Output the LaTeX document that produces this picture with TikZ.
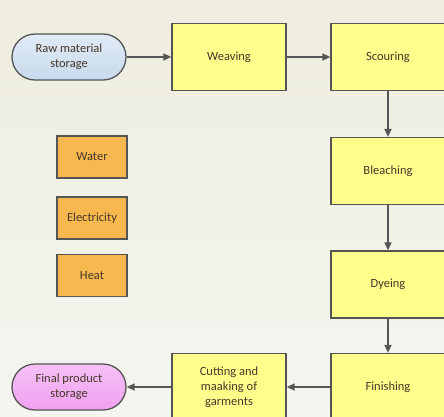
\documentclass[tikz,border=0pt]{standalone}
\usepackage{fontspec}
\setmainfont{Carlito}
\usetikzlibrary{arrows.meta, positioning}

\definecolor{bgtop}{RGB}{238,237,222}
\definecolor{bgbot}{RGB}{245,245,241}
\definecolor{stepyellow}{RGB}{255,255,140}
\definecolor{supplyorange}{RGB}{248,184,80}
\definecolor{rawblue}{RGB}{200,218,238}
\definecolor{finalpink}{RGB}{240,160,240}
\definecolor{edgegray}{RGB}{85,85,85}
\definecolor{textbrown}{RGB}{70,55,40}

\tikzset{
  stepbox/.style={draw=edgegray, line width=1.3pt, fill=stepyellow,
    minimum width=114pt, minimum height=67pt, align=center},
  supplybox/.style={draw=edgegray, line width=1.3pt, fill=supplyorange,
    minimum width=70pt, minimum height=42pt, align=center},
  storebox/.style={draw=edgegray, line width=1.3pt, rounded corners=23pt,
    minimum width=114pt, minimum height=46pt, align=center},
  flow/.style={-{Triangle[length=8pt, width=7pt]}, draw=edgegray, line width=1.5pt}
}

\begin{document}
\begin{tikzpicture}[x=1pt, y=-1pt, font=\fontsize{12.5}{15}\selectfont, text=textbrown]
  \shade[top color=bgtop, bottom color=bgbot] (0,0) rectangle (444,416);
  \useasboundingbox (0,0) rectangle (444,416);

  % storage ends
  \node[storebox, top color=rawblue!55!white, bottom color=rawblue] (raw) at (69,57) {Raw material\\storage};
  \node[storebox, top color=finalpink!65!white, bottom color=finalpink] (final) at (69,387) {Final product\\storage};

  % process steps
  \node[stepbox] (weave) at (229,57) {Weaving};
  \node[stepbox] (scour) at (388,57) {Scouring};
  \node[stepbox] (bleach) at (388,171) {Bleaching};
  \node[stepbox] (dye) at (388,284.5) {Dyeing};
  \node[stepbox] (finish) at (388,387) {Finishing};
  \node[stepbox] (cut) at (229,387) {Cutting and\\maaking of\\garments};

  % utilities
  \foreach \name/\txt/\y in {water/Water/157, elec/Electricity/218, heat/Heat/275.5} {
    \node[supplybox] (\name) at (92,\y) {\txt};
  }

  % flow of the fabric
  \draw[flow] (raw) -- (weave);
  \draw[flow] (weave) -- (scour);
  \draw[flow] (scour) -- (bleach);
  \draw[flow] (bleach) -- (dye);
  \draw[flow] (dye) -- (finish);
  \draw[flow] (finish) -- (cut);
  \draw[flow] (cut) -- (final);
\end{tikzpicture}
\end{document}
